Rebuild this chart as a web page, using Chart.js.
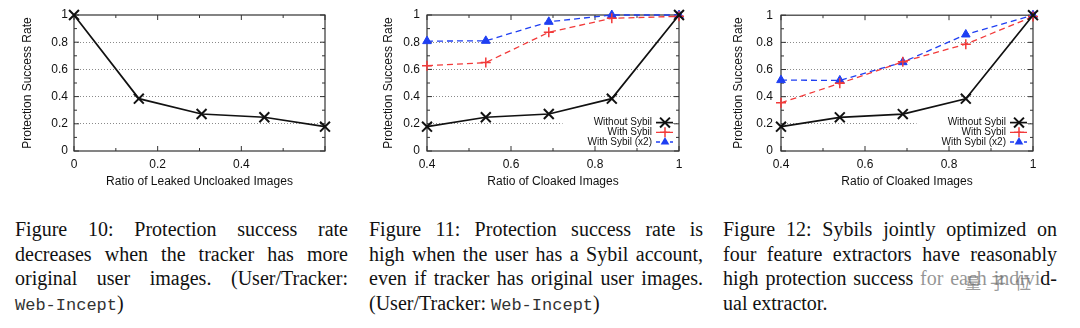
<!DOCTYPE html>
<html>
<head>
<meta charset="utf-8">
<script src="https://cdn.jsdelivr.net/npm/chart.js@4.4.0/dist/chart.umd.min.js"></script>
<style>
  body { margin: 0; width: 1080px; height: 328px; background: #fff; position: relative; overflow: hidden; }
  canvas { position: absolute; top: 0; }
  .cap { position: absolute; top: 217px; font-family: "Liberation Serif", "Times New Roman", serif; font-size: 20px; line-height: 24.5px; color: #111; }
  .cap div { white-space: nowrap; text-align: justify; text-align-last: justify; }
  .cap div.last { text-align-last: left; }
  .mono { font-family: "Liberation Mono", "Courier New", monospace; font-size: 17px; color: #333; }
  .wm { position: absolute; left: 916px; top: 268px; width: 124px; height: 28px; background: rgba(255,255,255,0.55);
        font-family: "Noto Sans CJK SC", sans-serif; font-size: 16px; line-height: 28px; color: rgba(110,110,110,0.7);
        letter-spacing: 9px; text-align: right; }
</style>
</head>
<body>
<canvas id="fig10" width="360" height="200" style="left:0px"></canvas>
<canvas id="fig11" width="360" height="200" style="left:360px"></canvas>
<canvas id="fig12" width="360" height="200" style="left:720px"></canvas>

<div class="cap" style="left:15px; width:333px">
  <div>Figure 10: Protection success rate</div>
  <div>decreases when the tracker has more</div>
  <div>original user images. (User/Tracker:</div>
  <div class="last"><span class="mono">Web-Incept</span>)</div>
</div>
<div class="cap" style="left:369px; width:334px">
  <div>Figure 11: Protection success rate is</div>
  <div>high when the user has a Sybil account,</div>
  <div>even if tracker has original user images.</div>
  <div class="last">(User/Tracker: <span class="mono">Web-Incept</span>)</div>
</div>
<div class="cap" style="left:723px; width:334px">
  <div>Figure 12: Sybils jointly optimized on</div>
  <div>four feature extractors have reasonably</div>
  <div>high protection success for each individ-</div>
  <div class="last">ual extractor.</div>
</div>
<div class="wm">量子位</div>

<script>
// fig 10: leaked uncloaked images
var leakRatio = [0, 0.155, 0.305, 0.455, 0.6];
var leakSuccess = [1.0, 0.385, 0.272, 0.248, 0.179];

// fig 11 / 12: cloaked images
var cloakRatio = [0.4, 0.54, 0.69, 0.84, 1.0];
var noSybil = [0.179, 0.248, 0.272, 0.385, 1.0];
var sybil = [0.627, 0.65, 0.873, 0.976, 0.99];
var sybil2 = [0.808, 0.81, 0.95, 1.0, 1.0];
var jointSybil = [0.355, 0.498, 0.657, 0.787, 0.99];
var jointSybil2 = [0.522, 0.52, 0.654, 0.858, 1.0];

var seriesNames = ['Without Sybil', 'With Sybil', 'With Sybil (x2)'];
var leakTitle = 'Ratio of Leaked Uncloaked Images';
var cloakTitle = 'Ratio of Cloaked Images';
var rateTitle = 'Protection Success Rate';

var textColor = '#111';
Chart.defaults.font.family = '"Liberation Sans", Arial, Helvetica, sans-serif';
Chart.defaults.color = textColor;

var styles = [
  {color: '#111111', pointStyle: 'crossRot', radius: 7, pointWidth: 2, dash: [], width: 1.7},
  {color: '#f23a3a', pointStyle: 'cross', radius: 5, pointWidth: 1.5, dash: [6, 4], width: 1.3},
  {color: '#1f3ff2', pointStyle: 'triangle', radius: 5, pointWidth: 1, dash: [6, 4], width: 1.3}
];

function pts(xs, ys){
  return xs.map(function(x, i){ return {x: x, y: ys[i]}; });
}

function dataset(xs, ys, s, label){
  return {
    label: label,
    data: pts(xs, ys),
    borderColor: s.color,
    backgroundColor: s.color,
    borderWidth: s.width,
    borderDash: s.dash,
    pointStyle: s.pointStyle,
    pointRadius: s.radius,
    pointBorderWidth: s.pointWidth,
    pointBorderColor: s.color,
    pointBackgroundColor: s.color,
    tension: 0,
    clip: false
  };
}

function tickLabel(value, hideMax, max){
  var n = Math.round(value * 10);
  if(n % 2 != 0){ return ''; }
  if(hideMax && Math.abs(value - max) < 1e-6){ return ''; }
  if(n == 0){ return '0'; }
  if(n == 10){ return '1'; }
  return (n / 10).toString();
}

function marker(ctx, s, x, y){
  ctx.save();
  ctx.strokeStyle = s.color;
  ctx.fillStyle = s.color;
  ctx.lineWidth = s.pointWidth;
  ctx.setLineDash([]);
  ctx.beginPath();
  if(s.pointStyle == 'crossRot'){
    var d = s.radius * 0.707;
    ctx.moveTo(x - d, y - d); ctx.lineTo(x + d, y + d);
    ctx.moveTo(x + d, y - d); ctx.lineTo(x - d, y + d);
    ctx.stroke();
  } else if(s.pointStyle == 'cross'){
    ctx.moveTo(x - s.radius, y); ctx.lineTo(x + s.radius, y);
    ctx.moveTo(x, y - s.radius); ctx.lineTo(x, y + s.radius);
    ctx.stroke();
  } else {
    var r = s.radius;
    ctx.moveTo(x, y - r);
    ctx.lineTo(x + r * 0.866, y + r / 2);
    ctx.lineTo(x - r * 0.866, y + r / 2);
    ctx.closePath();
    ctx.fill();
  }
  ctx.restore();
}

// gnuplot style box: frame, inward tick marks, key inside the lower right corner
var frame = {
  id: 'frame',
  beforeDatasetsDraw: function(chart, args, opts){
    var a = chart.chartArea, ctx = chart.ctx;
    ctx.save();
    if(opts.legend){
      ctx.font = '10px "Liberation Sans", Arial, sans-serif';
      var widest = 0;
      seriesNames.forEach(function(n){ widest = Math.max(widest, ctx.measureText(n).width); });
      var textRight = a.right - 27;
      ctx.fillStyle = '#fff';
      ctx.fillRect(textRight - widest - 25, a.bottom - 34, a.right - 6 - (textRight - widest - 25), 32);
    }
    ctx.strokeStyle = '#333';
    ctx.lineWidth = 1.2;
    ctx.strokeRect(a.left, a.top, a.right - a.left, a.bottom - a.top);
    ctx.lineWidth = 1;
    ctx.beginPath();
    chart.scales.x.ticks.forEach(function(t){
      var px = chart.scales.x.getPixelForValue(t.value);
      var len = Math.round(t.value * 10) % 2 == 0 ? 5 : 3;
      ctx.moveTo(px, a.bottom); ctx.lineTo(px, a.bottom - len);
      ctx.moveTo(px, a.top); ctx.lineTo(px, a.top + len);
    });
    chart.scales.y.ticks.forEach(function(t){
      var py = chart.scales.y.getPixelForValue(t.value);
      var len = Math.round(t.value * 10) % 2 == 0 ? 5 : 3;
      ctx.moveTo(a.left, py); ctx.lineTo(a.left + len, py);
      ctx.moveTo(a.right, py); ctx.lineTo(a.right - len, py);
    });
    ctx.stroke();
    ctx.restore();
  },
  afterDatasetsDraw: function(chart, args, opts){
    if(!opts.legend){ return; }
    var a = chart.chartArea, ctx = chart.ctx;
    var sets = chart.data.datasets;
    ctx.save();
    ctx.font = '10px "Liberation Sans", Arial, sans-serif';
    ctx.textAlign = 'right';
    ctx.textBaseline = 'middle';
    for(var i = 0; i < sets.length; i++){
      var y = a.bottom - 9 - (sets.length - 1 - i) * 9.7;
      var s = styles[i];
      ctx.fillStyle = textColor;
      ctx.fillText(sets[i].label, a.right - 27, y);
      ctx.strokeStyle = s.color;
      ctx.lineWidth = s.width;
      ctx.setLineDash(s.dash.length ? [4, 3] : []);
      ctx.beginPath();
      ctx.moveTo(a.right - 23, y); ctx.lineTo(a.right - 6, y);
      ctx.stroke();
      marker(ctx, s, a.right - 14, y);
    }
    ctx.restore();
  }
};

function makeChart(id, cfg){
  return new Chart(document.getElementById(id), {
    type: 'line',
    data: { datasets: cfg.datasets },
    options: {
      responsive: false,
      animation: false,
      devicePixelRatio: 1,
      layout: { padding: { left: 0, top: 15, right: cfg.padRight, bottom: 0 } },
      plugins: {
        legend: { display: false },
        tooltip: { enabled: false },
        frame: { legend: cfg.legend }
      },
      scales: {
        x: {
          type: 'linear',
          min: cfg.xMin,
          max: cfg.xMax,
          afterFit: function(s){ s.height = 49; },
          grid: { display: false, drawTicks: false },
          border: { display: false },
          ticks: {
            stepSize: 0.1, autoSkip: false, maxRotation: 0, padding: 6,
            font: { size: 12 },
            callback: function(v){ return tickLabel(v, cfg.hideMax, cfg.xMax); }
          },
          title: { display: true, text: cfg.xTitle, font: { size: 12 }, padding: { top: 0, bottom: 11 } }
        },
        y: {
          min: 0,
          max: 1,
          afterFit: function(s){ s.width = cfg.left; },
          grid: {
            drawTicks: false,
            lineWidth: 1,
            color: function(c){
              if(!c.tick){ return 'rgba(0,0,0,0)'; }
              var n = Math.round(c.tick.value * 10);
              return (n > 0 && n < 10 && n % 2 == 0) ? '#8a8a8a' : 'rgba(0,0,0,0)';
            }
          },
          border: { display: false, dash: [1, 2] },
          ticks: {
            stepSize: 0.1, autoSkip: false, padding: cfg.tickPad,
            font: { size: 12 },
            callback: function(v){ return tickLabel(v, false, 1); }
          },
          title: { display: true, text: rateTitle, font: { size: 12 }, padding: { top: cfg.titlePad, bottom: 0 } }
        }
      }
    },
    plugins: [frame]
  });
}

makeChart('fig10', {
  datasets: [dataset(leakRatio, leakSuccess, styles[0], seriesNames[0])],
  xMin: 0, xMax: 0.6, hideMax: true, xTitle: leakTitle,
  left: 74, padRight: 35, tickPad: 6, titlePad: 20, legend: false
});

makeChart('fig11', {
  datasets: [
    dataset(cloakRatio, noSybil, styles[0], seriesNames[0]),
    dataset(cloakRatio, sybil, styles[1], seriesNames[1]),
    dataset(cloakRatio, sybil2, styles[2], seriesNames[2])
  ],
  xMin: 0.4, xMax: 1, hideMax: false, xTitle: cloakTitle,
  left: 67, padRight: 41, tickPad: 7, titlePad: 21, legend: true
});

makeChart('fig12', {
  datasets: [
    dataset(cloakRatio, noSybil, styles[0], seriesNames[0]),
    dataset(cloakRatio, jointSybil, styles[1], seriesNames[1]),
    dataset(cloakRatio, jointSybil2, styles[2], seriesNames[2])
  ],
  xMin: 0.4, xMax: 1, hideMax: false, xTitle: cloakTitle,
  left: 61, padRight: 47, tickPad: 8, titlePad: 11, legend: true
});
</script>
</body>
</html>
